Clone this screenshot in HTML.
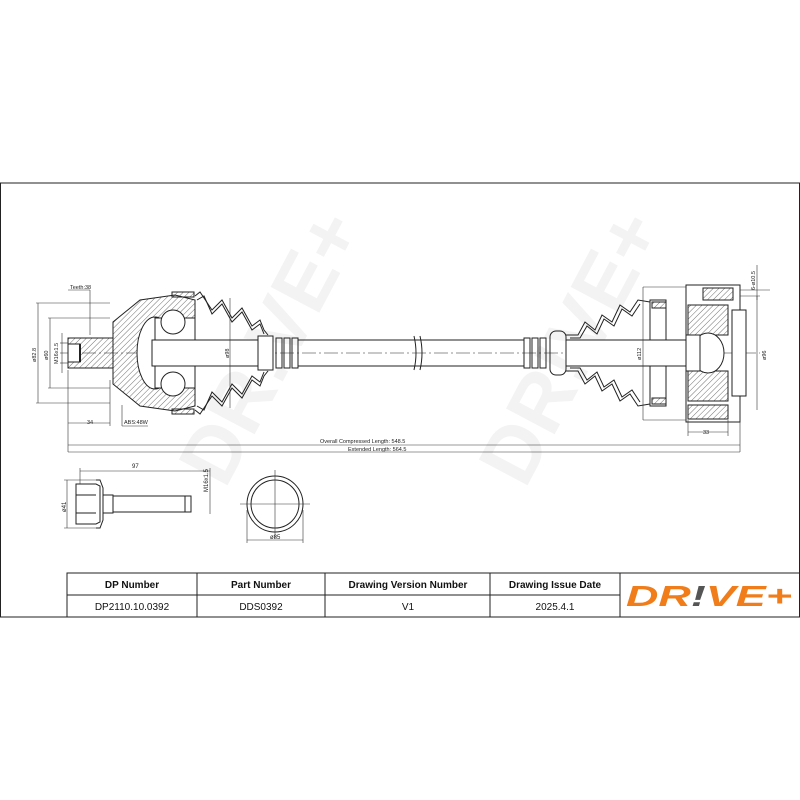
<!DOCTYPE html>
<html><head><style>
body{margin:0;background:#fff;}
svg{display:block;font-family:"Liberation Sans",sans-serif;}
</style></head><body>
<svg width="800" height="800" viewBox="0 0 800 800">
<defs>
<pattern id="h" width="4" height="4" patternUnits="userSpaceOnUse" patternTransform="rotate(45)"><line x1="0" y1="0" x2="0" y2="4" stroke="#333" stroke-width="0.7"/></pattern>
<clipPath id="fr"><rect x="0" y="183" width="800" height="434"/></clipPath>
</defs>
<rect width="800" height="800" fill="#fff"/>
<!-- frame -->
<line x1="0" y1="183" x2="800" y2="183" stroke="#222" stroke-width="1"/>
<line x1="0" y1="617" x2="800" y2="617" stroke="#222" stroke-width="1"/>
<line x1="0.5" y1="183" x2="0.5" y2="617" stroke="#222"/>
<line x1="799.5" y1="183" x2="799.5" y2="617" stroke="#222"/>
<!-- watermark -->
<g fill="#f3f3f3" font-size="80" font-weight="bold" clip-path="url(#fr)">
<text x="0" y="0" transform="translate(225 490) rotate(-62)">DR!VE+</text>
<text x="0" y="0" transform="translate(525 490) rotate(-62)">DR!VE+</text>
</g>
<g stroke="#222" fill="none" stroke-width="1">
<!-- centerline -->
<line x1="60" y1="353" x2="760" y2="353" stroke-dasharray="14,3,2,3" stroke-width="0.6"/>
<!-- left stub -->
<rect x="68" y="338" width="45" height="30" fill="url(#h)"/>
<rect x="68" y="344" width="12" height="18" fill="#fff"/>
<line x1="80" y1="344" x2="80" y2="362" stroke-width="2"/>
<!-- left bell -->
<path d="M113 330 L113 322 L140 300 L175 295 L195 300 L195 406 L175 411 L140 406 L113 384 L113 376 Z" fill="url(#h)"/>
<ellipse cx="155" cy="353" rx="18" ry="36" fill="#fff"/>
<rect x="155" y="318" width="40" height="70" fill="#fff"/>
<circle cx="173" cy="322" r="12" fill="#fff"/>
<circle cx="173" cy="384" r="12" fill="#fff"/>
<rect x="152" y="340" width="110" height="26" fill="#fff"/>
<rect x="172" y="292" width="22" height="5" fill="url(#h)"/>
<rect x="172" y="409" width="22" height="5" fill="url(#h)"/>
<!-- left boot -->
<path d="M195 296 L200 292 L212 310 L222 300 L232 318 L242 308 L252 326 L260 320 L264 330 L268 335 M195 410 L200 414 L212 396 L222 406 L232 388 L242 398 L252 380 L260 386 L264 376 L268 371"/>
<path d="M197 300 L204 296 L212 314 L222 304 L232 322 L242 312 L252 330 L260 324 L264 334 M197 406 L204 410 L212 392 L222 402 L232 384 L242 394 L252 376 L260 382 L264 372"/>
<!-- rings left -->
<rect x="258" y="336" width="15" height="34" fill="#fff"/>
<rect x="276" y="338" width="6" height="30"/><rect x="284" y="338" width="6" height="30"/><rect x="292" y="338" width="6" height="30"/>
<!-- shaft -->
<line x1="298" y1="340" x2="524" y2="340"/>
<line x1="298" y1="366" x2="524" y2="366"/>
<path d="M414 336 q4 17 0 34 M420 336 q4 17 0 34"/>
<!-- right rings -->
<rect x="524" y="338" width="6" height="30"/><rect x="532" y="338" width="6" height="30"/><rect x="540" y="338" width="6" height="30"/>
<rect x="550" y="331" width="16" height="44" rx="6"/>
<!-- right boot -->
<path d="M566 335 L578 335 L585 322 L595 330 L602 315 L612 322 L620 305 L630 312 L638 300 L650 302 M566 371 L578 371 L585 384 L595 376 L602 391 L612 384 L620 401 L630 394 L638 406 L650 404"/>
<path d="M570 338 L580 338 L587 326 L597 334 L604 319 L614 326 L622 309 L632 316 L640 304 M570 368 L580 368 L587 380 L597 372 L604 387 L614 380 L622 397 L632 390 L640 402"/>
<rect x="650" y="300" width="16" height="106"/>
<rect x="652" y="302" width="14" height="6" fill="url(#h)"/><rect x="652" y="398" width="14" height="6" fill="url(#h)"/>
<rect x="566" y="340" width="120" height="26" fill="#fff"/>
<!-- right joint -->
<rect x="686" y="285" width="54" height="137"/>
<rect x="688" y="305" width="40" height="30" fill="url(#h)"/>
<rect x="688" y="371" width="40" height="30" fill="url(#h)"/>
<ellipse cx="708" cy="353" rx="16" ry="20" fill="#fff"/>
<rect x="686" y="335" width="14" height="36" fill="#fff"/>
<rect x="732" y="310" width="14" height="86" fill="#fff"/>
<rect x="688" y="405" width="40" height="14" fill="url(#h)"/>
<rect x="703" y="288" width="30" height="12" fill="url(#h)"/>
</g>
<!-- dimensions -->
<g stroke="#333" stroke-width="0.6" fill="none">
<line x1="68" y1="445" x2="740" y2="445"/>
<line x1="68" y1="452" x2="740" y2="452"/>
<line x1="68" y1="370" x2="68" y2="452"/>
<line x1="740" y1="400" x2="740" y2="452"/>
<line x1="68" y1="423" x2="110" y2="423"/>
<line x1="110" y1="380" x2="110" y2="426"/>
<line x1="36" y1="303" x2="110" y2="303"/><line x1="36" y1="403" x2="110" y2="403"/><line x1="38" y1="303" x2="38" y2="403"/>
<line x1="48" y1="318" x2="110" y2="318"/><line x1="48" y1="388" x2="110" y2="388"/><line x1="50" y1="318" x2="50" y2="388"/>
<line x1="60" y1="343" x2="68" y2="343"/><line x1="60" y1="363" x2="68" y2="363"/><line x1="62" y1="333" x2="62" y2="373"/>
<line x1="68" y1="290" x2="90" y2="290"/><line x1="90" y1="290" x2="90" y2="335"/>
<line x1="230" y1="298" x2="230" y2="408"/>
<line x1="122" y1="426" x2="148" y2="426"/><line x1="122" y1="405" x2="122" y2="426"/>
<line x1="643" y1="287" x2="643" y2="420"/><line x1="643" y1="287" x2="686" y2="287"/><line x1="643" y1="420" x2="686" y2="420"/>
<line x1="688" y1="432" x2="728" y2="432"/><line x1="688" y1="420" x2="688" y2="436"/><line x1="728" y1="420" x2="728" y2="436"/>
<line x1="757" y1="296" x2="757" y2="410"/><line x1="740" y1="296" x2="760" y2="296"/>
<line x1="757" y1="265" x2="757" y2="300"/><line x1="740" y1="290" x2="770" y2="290"/>
</g>
<g font-size="5.5" fill="#222">
<text x="70" y="289">Teeth:38</text>
<text x="87" y="424">34</text>
<text x="124" y="424">ABS:48W</text>
<text x="320" y="443">Overall Compressed Length: 548.5</text>
<text x="348" y="451">Extended Length: 564.5</text>
<text x="703" y="434">33</text>
<text transform="translate(36 362) rotate(-90)">ø82.8</text>
<text transform="translate(48 360) rotate(-90)">ø60</text>
<text transform="translate(58 364) rotate(-90)">M16x1.5</text>
<text transform="translate(229 358) rotate(-90)">ø98</text>
<text transform="translate(641 360) rotate(-90)">ø112</text>
<text transform="translate(766 360) rotate(-90)">ø96</text>
<text transform="translate(755 290) rotate(-90)">6-ø10.5</text>
</g>
<!-- bolt -->
<g stroke="#222" fill="none" stroke-width="1">
<path d="M76 484 L96 484 L100 486 L100 522 L96 524 L76 524 Z"/>
<line x1="76" y1="495" x2="96" y2="495"/><line x1="76" y1="513" x2="96" y2="513"/>
<path d="M96 480 L100 480 L103 488 L103 520 L100 528 L96 528"/>
<rect x="103" y="495" width="10" height="18"/>
<rect x="113" y="496" width="78" height="16"/>
<line x1="185" y1="496" x2="185" y2="512"/>
<circle cx="275" cy="504" r="28"/>
<circle cx="275" cy="504" r="24"/>
</g>
<g stroke="#333" stroke-width="0.6" fill="none">
<line x1="80" y1="471" x2="210" y2="471"/><line x1="80" y1="468" x2="80" y2="484"/><line x1="210" y1="468" x2="210" y2="514"/>
<line x1="67" y1="480" x2="67" y2="528"/><line x1="64" y1="480" x2="96" y2="480"/><line x1="64" y1="528" x2="96" y2="528"/>
<line x1="247" y1="540" x2="303" y2="540"/><line x1="247" y1="510" x2="247" y2="543"/><line x1="303" y1="510" x2="303" y2="543"/>
<line x1="240" y1="504" x2="310" y2="504"/><line x1="275" y1="470" x2="275" y2="538"/>
</g>
<g font-size="6" fill="#222">
<text x="132" y="468">97</text>
<text transform="translate(66 512) rotate(-90)">ø41</text>
<text transform="translate(208 492) rotate(-90)">M16x1.5</text>
<text x="270" y="539">ø85</text>
</g>
<!-- table -->
<g stroke="#222" stroke-width="1" fill="none">
<rect x="67" y="573" width="733" height="44"/>
<line x1="67" y1="595" x2="620" y2="595"/>
<line x1="197" y1="573" x2="197" y2="617"/><line x1="325" y1="573" x2="325" y2="617"/>
<line x1="490" y1="573" x2="490" y2="617"/><line x1="620" y1="573" x2="620" y2="617"/>
</g>
<g font-size="10" fill="#111" text-anchor="middle">
<text x="132" y="588" font-weight="bold">DP Number</text>
<text x="261" y="588" font-weight="bold">Part Number</text>
<text x="408" y="588" font-weight="bold">Drawing Version Number</text>
<text x="555" y="588" font-weight="bold">Drawing Issue Date</text>
<text x="132" y="610">DP2110.10.0392</text>
<text x="261" y="610">DDS0392</text>
<text x="408" y="610">V1</text>
<text x="555" y="610">2025.4.1</text>
</g>
<text x="626" y="606" font-size="29" font-weight="bold" font-style="italic" fill="#f07d1a" textLength="166" lengthAdjust="spacingAndGlyphs">DR<tspan fill="#555">!</tspan>VE+</text>
</svg>
</body></html>
